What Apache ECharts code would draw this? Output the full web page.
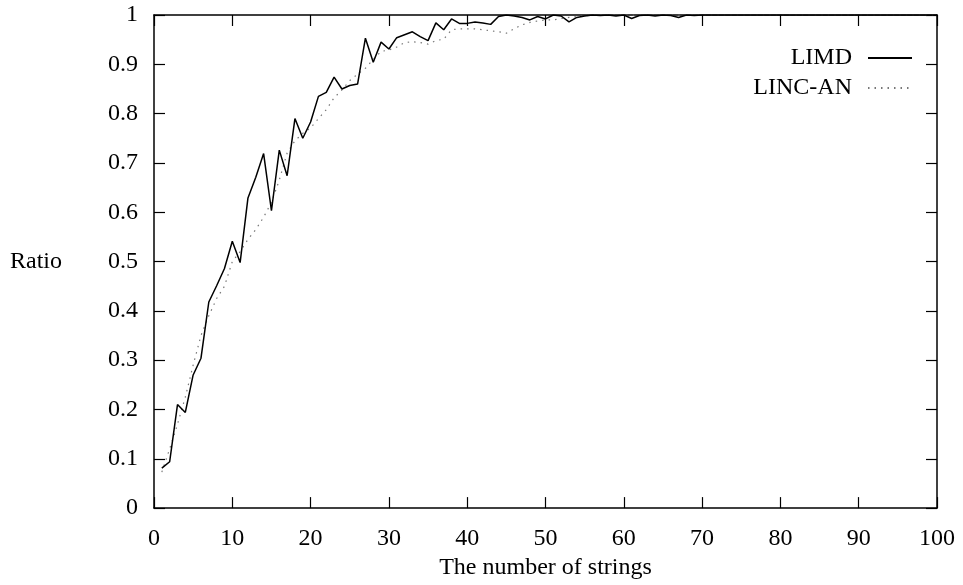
<!DOCTYPE html>
<html>
<head>
<meta charset="utf-8">
<script src="https://cdn.jsdelivr.net/npm/echarts@6/dist/echarts.min.js"></script>
<style>
html, body { margin: 0; padding: 0; background: #fff; }
#main { width: 963px; height: 585px; }
</style>
</head>
<body>
<div id="main"></div>
<script>
var strings = [];
for (var i = 1; i <= 100; i++) strings.push(i);

var limd = [
  0.081, 0.094, 0.210, 0.194, 0.270, 0.304, 0.418, 0.451, 0.486, 0.541,
  0.498, 0.629, 0.671, 0.719, 0.603, 0.726, 0.674, 0.790, 0.750, 0.783,
  0.835, 0.843, 0.874, 0.850, 0.857, 0.860, 0.953, 0.904, 0.945, 0.931,
  0.954, 0.960, 0.966, 0.956, 0.948, 0.984, 0.970, 0.992, 0.983, 0.983,
  0.986, 0.984, 0.981, 0.997, 1.000, 0.998, 0.995, 0.990, 0.997, 0.992,
  1.000, 0.998, 0.986, 0.995, 0.998, 1.000, 0.999, 1.000, 0.998, 1.000,
  0.993, 0.999, 1.000, 0.998, 1.000, 0.999, 0.995, 1.000, 0.999, 1.000,
  1, 1, 1, 1, 1, 1, 1, 1, 1, 1,
  1, 1, 1, 1, 1, 1, 1, 1, 1, 1,
  1, 1, 1, 1, 1, 1, 1, 1, 1, 1
];

var lincAn = [
  0.073, 0.120, 0.170, 0.225, 0.290, 0.350, 0.390, 0.425, 0.450, 0.500,
  0.520, 0.545, 0.565, 0.590, 0.620, 0.665, 0.720, 0.745, 0.760, 0.771,
  0.790, 0.808, 0.832, 0.848, 0.867, 0.880, 0.892, 0.910, 0.926, 0.929,
  0.935, 0.944, 0.946, 0.944, 0.941, 0.948, 0.951, 0.970, 0.972, 0.972,
  0.972, 0.970, 0.968, 0.966, 0.963, 0.972, 0.980, 0.985, 0.988, 0.990,
  0.990, 0.993, 0.995, 0.997, 0.998, 1, 1, 1, 1, 1,
  1, 1, 1, 1, 1, 1, 1, 1, 1, 1,
  1, 1, 1, 1, 1, 1, 1, 1, 1, 1,
  1, 1, 1, 1, 1, 1, 1, 1, 1, 1,
  1, 1, 1, 1, 1, 1, 1, 1, 1, 1
];

function pairs(ys) {
  return ys.map(function(v, i) { return [strings[i], v]; });
}

var serif = 'Liberation Serif';
var fs = 24;
var lineCol = '#000';

var myChart = echarts.init(document.getElementById('main'));

var tickStyle = { show: true, inside: true, length: 11, lineStyle: { color: lineCol, width: 1.2 } };
var axisLine = { show: true, onZero: false, lineStyle: { color: lineCol, width: 1.5 } };

myChart.setOption({
  backgroundColor: '#fff',
  animation: false,
  grid: { left: 154, right: 26, top: 15, bottom: 74 },
  legend: {
    orient: 'vertical',
    right: 45,
    top: 41,
    align: 'right',
    itemWidth: 44,
    itemHeight: 14,
    itemGap: 6,
    itemStyle: { opacity: 0 },
    textStyle: { fontFamily: serif, fontSize: fs, color: '#000', padding: [0, 11, 0, 0] },
    data: ['LIMD', 'LINC-AN']
  },
  xAxis: [{
    type: 'value',
    min: 0, max: 100, interval: 10,
    name: 'The number of strings',
    nameLocation: 'middle',
    nameGap: 41,
    nameTextStyle: { fontFamily: serif, fontSize: fs, color: '#000' },
    axisLine: axisLine,
    axisTick: tickStyle,
    axisLabel: { margin: 19, fontFamily: serif, fontSize: fs, color: '#000' },
    splitLine: { show: false }
  }, {
    type: 'value',
    position: 'top',
    min: 0, max: 100, interval: 10,
    axisLine: axisLine,
    axisTick: tickStyle,
    axisLabel: { show: false },
    splitLine: { show: false }
  }],
  yAxis: [{
    type: 'value',
    min: 0, max: 1, interval: 0.1,
    name: 'Ratio',
    nameLocation: 'middle',
    nameRotate: 0,
    nameGap: 144,
    nameTextStyle: { fontFamily: serif, fontSize: fs, color: '#000', align: 'left' },
    axisLine: axisLine,
    axisTick: tickStyle,
    axisLabel: { margin: 16, fontFamily: serif, fontSize: fs, color: '#000',
      formatter: function(v) { return String(Math.round(v * 10) / 10); } },
    splitLine: { show: false }
  }, {
    type: 'value',
    position: 'right',
    min: 0, max: 1, interval: 0.1,
    axisLine: axisLine,
    axisTick: tickStyle,
    axisLabel: { show: false },
    splitLine: { show: false }
  }],
  series: [{
    name: 'LIMD',
    type: 'line',
    symbol: 'none',
    data: pairs(limd),
    lineStyle: { color: '#000', width: 1.5 },
    itemStyle: { color: '#000' },
    z: 3
  }, {
    name: 'LINC-AN',
    type: 'line',
    symbol: 'none',
    data: pairs(lincAn),
    lineStyle: { color: '#777', width: 1.2, type: [1.5, 5] },
    itemStyle: { color: '#777' },
    z: 2
  }]
});
</script>
</body>
</html>
